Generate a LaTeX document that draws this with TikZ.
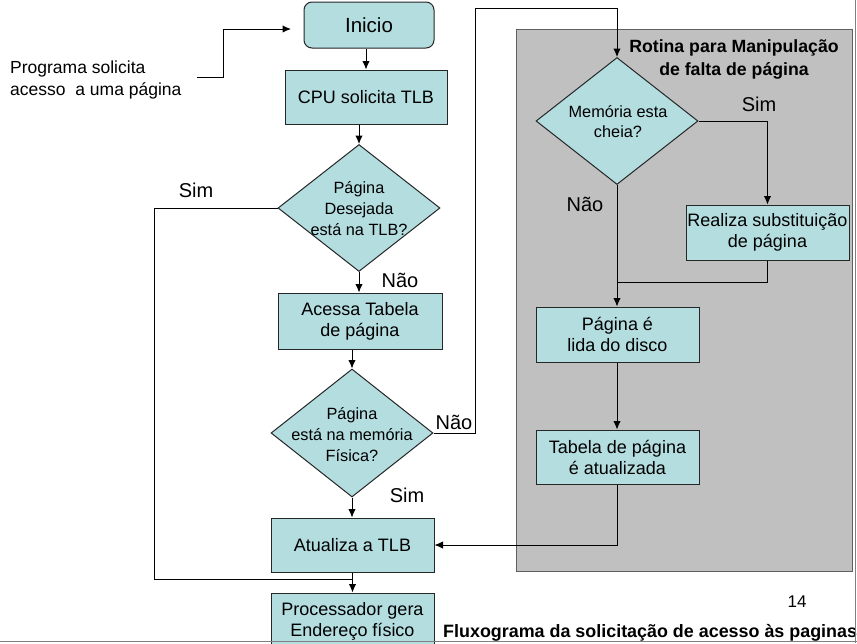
\documentclass[tikz,border=0pt]{standalone}
\usepackage{fontspec}
\setmainfont{Liberation Sans}
\usetikzlibrary{shapes.geometric,arrows.meta}
\definecolor{boxfill}{RGB}{180,221,224}
\definecolor{panelfill}{RGB}{192,192,192}
\definecolor{paneldraw}{RGB}{96,96,96}
\definecolor{framegray}{RGB}{128,128,128}
\begin{document}
\begin{tikzpicture}[x=1pt,y=-1pt,
  rbox/.style={rectangle, draw=black!85, line width=1pt, fill=boxfill, inner sep=0pt, align=center, font=\fontsize{18}{21}\selectfont},
  dia/.style={diamond, draw=black!85, line width=1pt, fill=boxfill, inner sep=0pt, minimum width=162pt, minimum height=127pt},
  diatext/.style={align=center, inner sep=0pt, font=\fontsize{16.3}{21}\selectfont},
  lbl/.style={inner sep=0pt, font=\fontsize{20}{24}\selectfont},
  conn/.style={line width=1pt, draw=black},
  arr/.style={conn, -{Latex[length=8.5pt,width=7.5pt]}}
]
\useasboundingbox (0,0) rectangle (857,643);
\clip (0,0) rectangle (857,643);

% panel
\node[rectangle, draw=paneldraw, line width=1pt, fill=panelfill, minimum width=336pt, minimum height=542pt, inner sep=0pt] (panel) at (684,300) {};
\node[align=center, inner sep=0pt, font=\bfseries\fontsize{17.7}{23}\selectfont] (title) at (734,59) {Rotina para Manipulação\\de falta de página};

% left column
\node[rbox, rounded corners=8pt, minimum width=130pt, minimum height=46pt, font=\fontsize{20.5}{24}\selectfont] (inicio) at (369,25) {Inicio};
\node[rbox, minimum width=162pt, minimum height=54pt] (cpu) at (366,97) {CPU solicita TLB};
\node[dia] (d1) at (359,208) {};
\node[diatext] (d1t) at (359,209) {Página\\Desejada\\está na TLB?};
\node[rbox, minimum width=164pt, minimum height=56pt] (acessa) at (360,321) {Acessa Tabela\\de página};
\node[dia, minimum height=128pt] (d2) at (352,433) {};
\node[diatext] (d2t) at (352,435) {Página\\está na memória\\Física?};
\node[rbox, minimum width=163pt, minimum height=54pt] (atualiza) at (352.5,545) {Atualiza a TLB};
\node[rbox, minimum width=163pt, minimum height=56pt] (proc) at (352.5,621) {Processador gera\\Endereço físico};

% right column
\node[dia] (d3) at (617,121) {};
\node[diatext, font=\fontsize{16.3}{20}\selectfont] (d3t) at (618,122) {Memória esta\\cheia?};
\node[rbox, minimum width=163pt, minimum height=55pt] (realiza) at (767.5,232.5) {Realiza substituição\\de página};
\node[rbox, minimum width=163pt, minimum height=55pt] (pagina) at (617.5,334.5) {Página é\\lida do disco};
\node[rbox, minimum width=163pt, minimum height=54pt] (tabela) at (617.5,457) {Tabela de página\\é atualizada};

% texts
\node[anchor=west, align=left, inner sep=0pt, font=\fontsize{17.5}{22}\selectfont] (prog) at (10,80) {Programa solicita\\acesso\ \ a uma página};
\node[lbl] (sim1) at (196,190) {Sim};
\node[lbl] (nao1) at (400,280) {Não};
\node[lbl] (nao2) at (454,422) {Não};
\node[lbl] (sim2) at (407,495) {Sim};
\node[lbl] (sim3) at (759,104) {Sim};
\node[lbl] (nao3) at (585,204) {Não};
\node[inner sep=0pt, font=\fontsize{17}{20}\selectfont] (pg) at (797,602) {14};
\node[anchor=west, inner sep=0pt, font=\bfseries\fontsize{17.9}{20}\selectfont] (foot) at (443,633) {Fluxograma da solicitação de acesso às paginas};

% coordinates
\coordinate (pa) at (197,77);
\coordinate (pb) at (291,29);
\coordinate (c1) at (475,8);
\coordinate (j1) at (352.5,579);
\coordinate (j2) at (617,282);

% connectors
\draw[arr] (pa) -- ++(26,0) |- (pb);
\draw[arr] (cpu.north |- inicio.south) -- (cpu.north);
\draw[arr] (d1.north |- cpu.south) -- (d1.north);
\draw[arr] (d1.south) -- (d1.south |- acessa.north);
\draw[arr] (d2.north |- acessa.south) -- (d2.north);
\draw[arr] (d2.south) -- (d2.south |- atualiza.north);
\draw[arr] (atualiza.south) -- (proc.north);
\draw[conn] (d1.west) -- ++(-123,0) |- (j1);
\draw[arr] (d2.east) -| (c1) -| (d3.north);
\draw[arr] (d3.east) -| (realiza.north);
\draw[arr] (d3.south) -- (d3.south |- pagina.north);
\draw[conn] (realiza.south) |- (j2);
\draw[arr] (pagina.south -| d3.south) -- (d3.south |- tabela.north);
\draw[arr] (tabela.south -| d3.south) |- (atualiza.east);

% frame
\draw[framegray, line width=1pt] (855.5,0) -- (855.5,643);
\draw[framegray, line width=1.2pt] (0,641.5) -- (857,641.5);
\end{tikzpicture}
\end{document}
